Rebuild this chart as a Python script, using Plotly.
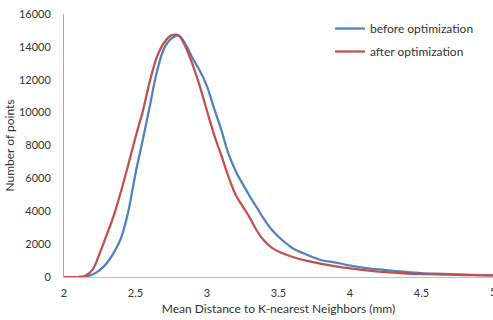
import plotly.graph_objects as go

# Data
before_x = [2.00, 2.10, 2.15, 2.20, 2.25, 2.30, 2.35, 2.40, 2.45, 2.50, 2.55, 2.60,
            2.65, 2.70, 2.75, 2.80, 2.85, 2.90, 2.95, 3.00, 3.05, 3.10, 3.15, 3.20,
            3.25, 3.30, 3.35, 3.40, 3.45, 3.50, 3.60, 3.70, 3.80, 3.90, 4.00, 4.10,
            4.20, 4.30, 4.40, 4.50, 4.60, 4.70, 4.80, 4.90, 5.00]
before_y = [0, 0, 30, 150, 420, 850, 1500, 2400, 4000, 6300, 8300, 10400,
            12500, 13900, 14500, 14700, 14150, 13300, 12550, 11600, 10250, 8950, 7500, 6450,
            5650, 4900, 4200, 3500, 2900, 2450, 1750, 1350, 1020, 880, 700, 560,
            460, 380, 300, 240, 200, 170, 140, 115, 100]

after_x = [2.00, 2.10, 2.15, 2.20, 2.25, 2.30, 2.35, 2.40, 2.45, 2.50, 2.55, 2.60,
           2.65, 2.70, 2.75, 2.80, 2.85, 2.90, 2.95, 3.00, 3.05, 3.10, 3.15, 3.20,
           3.25, 3.30, 3.35, 3.40, 3.45, 3.50, 3.60, 3.70, 3.80, 3.90, 4.00, 4.10,
           4.20, 4.30, 4.40, 4.50, 4.60, 4.70, 4.80, 4.90, 5.00]
after_y = [0, 0, 80, 450, 1450, 2600, 3800, 5250, 6850, 8500, 10050, 11900,
           13400, 14250, 14700, 14700, 14000, 12900, 11600, 10100, 8650, 7400, 6100, 5000,
           4300, 3600, 2800, 2200, 1800, 1550, 1220, 980, 800, 650, 530, 420,
           330, 260, 210, 180, 160, 140, 120, 110, 100]

x_ticks = [2, 2.5, 3, 3.5, 4, 4.5, 5]
x_tick_labels = ["2", "2.5", "3", "3.5", "4", "4.5", "5"]
y_ticks = [0, 2000, 4000, 6000, 8000, 10000, 12000, 14000, 16000]
y_tick_labels = [str(v) for v in y_ticks]

FONT = "Lato"
TXT = "#333333"

fig = go.Figure()
fig.add_trace(go.Scatter(x=before_x, y=before_y, mode="lines", name="before optimization",
                         legendgroup="a",
                         line=dict(color="#4F81BD", width=2.25, shape="spline", smoothing=1.0)))
fig.add_trace(go.Scatter(x=after_x, y=after_y, mode="lines", name="after optimization",
                         legendgroup="b",
                         line=dict(color="#C0504D", width=2.25, shape="spline", smoothing=1.0)))

# The last x tick label sits on the right edge of the figure (cut off in the reference);
# Plotly drops labels that overflow, so draw it as an annotation at the tick position.
fig.add_annotation(x=x_ticks[-1], y=0, xref="x", yref="paper", text=x_tick_labels[-1],
                   showarrow=False, xanchor="center", yanchor="top", yshift=-6,
                   font=dict(family=FONT, size=11, color=TXT))

fig.update_layout(
    width=493, height=320,
    margin=dict(l=64, r=0, t=14, b=43, autoexpand=False),
    paper_bgcolor="white", plot_bgcolor="white",
    font=dict(family=FONT, size=11, color=TXT),
    legend=dict(x=0.62, y=1.0, xanchor="left", yanchor="top",
                font=dict(family=FONT, size=12, color=TXT),
                bgcolor="rgba(0,0,0,0)", itemwidth=30, tracegroupgap=4),
    xaxis=dict(range=[2, 5], tickvals=x_ticks, ticktext=x_tick_labels,
               showgrid=False, zeroline=False, showline=True, linecolor="#BFBFBF",
               linewidth=1, ticks="", ticklabelstandoff=6,
               title=dict(text="Mean Distance to K-nearest Neighbors (mm)",
                          font=dict(family=FONT, size=12, color=TXT), standoff=6)),
    yaxis=dict(range=[0, 16000], tickvals=y_ticks, ticktext=y_tick_labels,
               showgrid=False, zeroline=False, showline=True, linecolor="#A6A6A6",
               linewidth=1, ticks="", ticklabelstandoff=10,
               title=dict(text="Number of points",
                          font=dict(family=FONT, size=12, color=TXT), standoff=1)),
)

fig.write_html("out.html", config={"displayModeBar": False},
               post_script="document.body.style.margin='0';")
